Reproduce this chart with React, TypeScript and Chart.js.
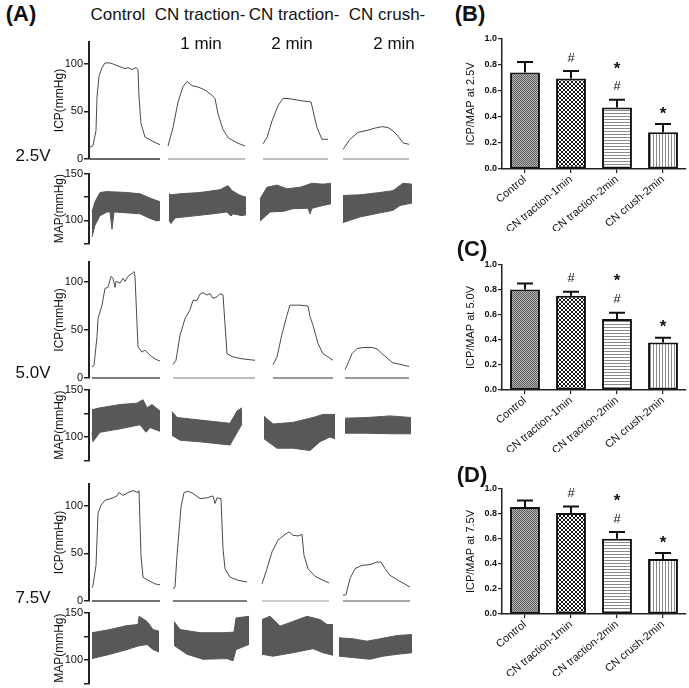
import React, { useEffect, useRef } from 'react';
import { Chart, registerables } from 'chart.js';

Chart.register(...registerables);

const FONT = '"Liberation Sans", Arial, Helvetica, sans-serif';
Chart.defaults.font.family = FONT;
Chart.defaults.color = '#111';

type Pt = [number, number];

// ---------- labels ----------
const groupHeads = ['Control', 'CN traction-', 'CN traction-', 'CN crush-'];
const groupSubs = ['', '1 min', '2 min', '2 min'];
const voltages = ['2.5V', '5.0V', '7.5V'];
const barGroups = ['Control', 'CN traction-1min', 'CN traction-2min', 'CN crush-2min'];
const icpTicks = [0, 50, 100];
const mapTicks = [75, 100, 125, 150];
const mapLabelled = [100, 150];
const ratioTicks = [0, 0.2, 0.4, 0.6, 0.8, 1.0];

// ---------- Panel A: ICP traces [time, mmHg] ----------
const icp25Control: Pt[] = [[1, 12.5], [4, 14], [7, 30], [8, 65], [10, 87], [13, 96], [16, 101], [21, 101], [26, 99], [31, 97], [36, 95], [39, 96], [43, 94], [47, 96], [49, 94], [50, 65], [52, 37], [56, 23], [63, 19], [71, 15]];
const icp25Trac1: Pt[] = [[79, 13.6], [84, 33], [89, 60], [94, 76], [98, 81.5], [101, 79], [103, 77], [108, 76], [113, 74], [118, 71], [123, 67], [126, 63.6], [129, 47.5], [134, 31], [139, 22.5], [148, 17], [156, 13.6]];
const icp25Trac2: Pt[] = [[174, 16], [178, 22.5], [183, 40], [189, 56], [194, 63.6], [199, 63.6], [208, 62], [216, 60.7], [222, 60], [224, 51], [228, 33], [233, 20.7], [239, 20.7]];
const icp25Crush: Pt[] = [[254, 10], [261, 20.7], [269, 28], [278, 30], [286, 32.5], [293, 34], [299, 33], [304, 29.6], [309, 24], [314, 17], [320, 15.4]];

const icp50Control: Pt[] = [[3, 11.5], [5, 13], [8, 43], [9, 62], [13, 76], [16, 93.5], [19, 94.5], [22, 106], [24, 104], [26, 94.5], [27, 100.7], [31, 99], [34, 104], [36, 100.7], [39, 106], [43, 109], [45, 111], [46, 106], [49, 32.5], [53, 27], [56, 29], [61, 23.7], [66, 20], [71, 17.5]];
const icp50Trac1: Pt[] = [[84, 14], [87, 18.5], [91, 44.6], [96, 62], [101, 71], [104, 81], [108, 81], [111, 87.5], [114, 89], [118, 86.5], [121, 88], [124, 83], [128, 84.7], [131, 88], [134, 86.5], [138, 25.4], [144, 22], [153, 20], [166, 18.5]];
const icp50Trac2: Pt[] = [[184, 14], [188, 22], [193, 46], [198, 65.5], [201, 76], [204, 76], [211, 76], [219, 75], [221, 64], [224, 55], [229, 36], [234, 25.4], [244, 18.5]];
const icp50Crush: Pt[] = [[256, 8.7], [258, 13], [263, 25.4], [268, 30.7], [274, 31.8], [283, 31.8], [288, 30.4], [293, 25.4], [299, 20], [304, 15.7], [311, 14.3], [320, 12]];

const icp75Control: Pt[] = [[3, 14], [4, 16.5], [7, 37.5], [9, 92], [12, 100.7], [16, 106], [23, 108], [28, 110.5], [30, 114], [34, 111], [39, 114], [44, 116], [49, 114], [50, 116], [52, 48], [54, 25], [59, 21.8], [66, 18], [71, 17]];
const icp75Trac1: Pt[] = [[84, 13], [86, 14.7], [88, 48], [92, 99], [95, 114], [99, 115.4], [104, 113], [111, 107.7], [118, 108.4], [124, 110.5], [126, 102.5], [128, 108.4], [132, 107.7], [134, 55], [136, 34], [141, 25], [149, 21.8], [158, 20]];
const icp75Trac2: Pt[] = [[173, 18], [178, 34], [183, 51.6], [189, 64], [196, 70], [200, 72.6], [204, 69], [209, 68.4], [213, 70], [215, 48], [219, 34], [226, 26], [234, 21.8], [240, 19]];
const icp75Crush: Pt[] = [[254, 6], [257, 6.7], [261, 23.5], [266, 34], [273, 37.5], [279, 38], [283, 39], [288, 41], [292, 41], [296, 34], [301, 27], [309, 21.8], [321, 14.7]];

// ---------- Panel A: MAP envelopes (upper / lower), [time, mmHg] ----------
const map25ControlHi: Pt[] = [[3, 109], [6, 120], [11, 130], [18, 131], [38, 130], [51, 128.6], [61, 124], [71, 120]];
const map25ControlLo: Pt[] = [[3, 82], [6, 94.6], [11, 105], [18, 109], [21, 109], [23, 90.4], [25, 109], [38, 108], [51, 107], [61, 102], [68, 99.3], [71, 100]];
const map25Trac1Hi: Pt[] = [[80, 128.6], [82, 127.5], [91, 128.6], [111, 130], [131, 133], [139, 137.5], [143, 132], [151, 127], [157, 125]];
const map25Trac1Lo: Pt[] = [[80, 100], [82, 96.4], [86, 102.5], [104, 104.6], [124, 107], [138, 109], [142, 104.6], [144, 107], [153, 105], [157, 106]];
const map25Trac2Hi: Pt[] = [[171, 123], [178, 135.7], [188, 138], [198, 134], [211, 135.7], [223, 140], [234, 139], [242, 140]];
const map25Trac2Lo: Pt[] = [[171, 99], [181, 109], [194, 109.6], [204, 112.5], [219, 113], [221, 107], [223, 113], [234, 116], [242, 117.8]];
const map25CrushHi: Pt[] = [[254, 126.8], [271, 127.5], [291, 130], [304, 132], [314, 140], [323, 139]];
const map25CrushLo: Pt[] = [[254, 97.5], [271, 103.6], [291, 108], [304, 110.7], [311, 116], [323, 118.6]];

const map50ControlHi: Pt[] = [[3, 129], [11, 131], [31, 134.5], [48, 136], [54, 139.7], [58, 131], [63, 134.5], [71, 127.6]];
const map50ControlLo: Pt[] = [[3, 105], [4, 95], [11, 105], [31, 108.6], [51, 113], [57, 105], [61, 110], [71, 106]];
const map50Trac1Hi: Pt[] = [[83, 127], [88, 120.7], [111, 118], [141, 114.5], [148, 127.6], [153, 131]];
const map50Trac1Lo: Pt[] = [[83, 101.7], [91, 96.5], [111, 94.8], [141, 91.4], [153, 113.8]];
const map50Trac2Hi: Pt[] = [[175, 122], [184, 113.8], [204, 115.5], [224, 120.7], [234, 124], [246, 124]];
const map50Trac2Lo: Pt[] = [[175, 98], [188, 88], [204, 88], [221, 85.5], [231, 95], [241, 100], [246, 98]];
const map50CrushHi: Pt[] = [[256, 120], [278, 120.7], [301, 122.4], [322, 120.7]];
const map50CrushLo: Pt[] = [[256, 104], [278, 104], [301, 103.4], [322, 103.4]];

const map75ControlHi: Pt[] = [[3, 129], [21, 132.4], [38, 136.6], [49, 137.7], [50, 146.5], [58, 141], [64, 132.4], [70, 130.6]];
const map75ControlLo: Pt[] = [[3, 101.4], [21, 106], [38, 111], [49, 114.8], [58, 116.5], [64, 111], [70, 108.5]];
const map75Trac1Hi: Pt[] = [[85, 141], [91, 132.4], [111, 129], [134, 129], [145, 129.6], [147, 144.7], [160, 146.5]];
const map75Trac1Lo: Pt[] = [[85, 115.5], [98, 106], [114, 100.7], [138, 101.4], [144, 99], [147, 111], [160, 116.5]];
const map75Trac2Hi: Pt[] = [[173, 143], [181, 146.5], [191, 136], [204, 141], [218, 146.5], [231, 143], [238, 137.7], [244, 137.7]];
const map75Trac2Lo: Pt[] = [[173, 106], [184, 104], [204, 107.7], [224, 112], [234, 107.7], [244, 105]];
const map75CrushHi: Pt[] = [[250, 123.6], [264, 122.5], [278, 120], [291, 122.5], [308, 126], [323, 127]];
const map75CrushLo: Pt[] = [[250, 104], [264, 102.5], [281, 100.7], [294, 104], [308, 106], [323, 107.7]];

// ---------- Panels B-D: ICP/MAP ratio (mean, SEM) ----------
const ratio25 = [0.743, 0.697, 0.473, 0.283];
const sem25 = [0.080, 0.056, 0.059, 0.064];
const ratio50 = [0.805, 0.755, 0.568, 0.381];
const sem50 = [0.048, 0.032, 0.051, 0.038];
const ratio75 = [0.856, 0.808, 0.603, 0.440];
const sem75 = [0.053, 0.053, 0.053, 0.048];
const sigMarks = [[], ['#'], ['#', '*'], ['*']];

// ---------- helpers ----------
const toXY = (pts: Pt[]) => pts.map(([x, y]) => ({ x, y }));

function ChartBox({ left, top, width, height, build }: any) {
  const ref = useRef<HTMLCanvasElement>(null);
  useEffect(() => {
    const chart = new Chart(ref.current as HTMLCanvasElement, build());
    return () => chart.destroy();
  }, []);
  return (
    <canvas ref={ref} width={width} height={height}
      style={{ position: 'absolute', left, top, width, height }} />
  );
}

const TRACE_LEFT_PAD = 48;
const TRACE_AXIS_W = 41;
const TRACE_W = 418;
const TRACE_XMAX = 325;

function icpConfig(traces: Pt[][], yMax: number, baseColors: string[]) {
  const datasets: any[] = [];
  traces.forEach((tr, i) => {
    datasets.push({
      data: [{ x: tr[0][0], y: 0 }, { x: tr[tr.length - 1][0], y: 0 }],
      borderColor: baseColors[i], borderWidth: 1.5, pointRadius: 0, clip: 4,
    });
    datasets.push({ data: toXY(tr), borderColor: '#4a4a4a', borderWidth: 1, pointRadius: 0, clip: 4 });
  });
  return {
    type: 'line',
    data: { datasets },
    options: {
      animation: false, responsive: false, devicePixelRatio: 1,
      layout: { padding: { left: TRACE_LEFT_PAD, right: 4, top: 10, bottom: 10 } },
      plugins: { legend: { display: false }, tooltip: { enabled: false } },
      scales: {
        x: { type: 'linear', min: 0, max: TRACE_XMAX, display: false },
        y: {
          min: 0, max: yMax,
          afterBuildTicks: (s: any) => { s.ticks = icpTicks.map((v) => ({ value: v })); },
          afterFit: (s: any) => { s.width = TRACE_AXIS_W; },
          ticks: { font: { size: 11 }, color: '#111', padding: 1 },
          grid: { drawOnChartArea: false, tickLength: 5, color: '#222', lineWidth: 1.5 },
          border: { color: '#222', width: 2 },
          title: { display: true, text: 'ICP(mmHg)', font: { size: 12 }, color: '#111', padding: { top: 4, bottom: 0 } },
        },
      },
    },
  };
}

function mapConfig(bands: [Pt[], Pt[]][]) {
  const datasets: any[] = [];
  bands.forEach(([hi, lo]) => {
    datasets.push({ data: toXY(hi), fill: '+1', backgroundColor: '#585858', borderColor: '#585858', borderWidth: 1, pointRadius: 0 });
    datasets.push({ data: toXY(lo), fill: false, borderColor: '#585858', borderWidth: 1, pointRadius: 0 });
  });
  return {
    type: 'line',
    data: { datasets },
    options: {
      animation: false, responsive: false, devicePixelRatio: 1,
      layout: { padding: { left: TRACE_LEFT_PAD, right: 4, top: 8, bottom: 6 } },
      plugins: { legend: { display: false }, tooltip: { enabled: false } },
      scales: {
        x: { type: 'linear', min: 0, max: TRACE_XMAX, display: false },
        y: {
          min: 75, max: 150,
          afterBuildTicks: (s: any) => { s.ticks = mapTicks.map((v) => ({ value: v })); },
          afterFit: (s: any) => { s.width = TRACE_AXIS_W; },
          ticks: { font: { size: 11 }, color: '#111', padding: 1, callback: (v: any) => (mapLabelled.includes(v) ? String(v) : '') },
          grid: { drawOnChartArea: false, tickLength: 5, color: '#222', lineWidth: 1.5 },
          border: { color: '#222', width: 2 },
          title: { display: true, text: 'MAP(mmHg)', font: { size: 12 }, color: '#111', padding: { top: 4, bottom: 0 } },
        },
      },
    },
  };
}

function makePattern(kind: string) {
  const c = document.createElement('canvas');
  const ctx = c.getContext('2d') as CanvasRenderingContext2D;
  if (kind === 'fine') {
    c.width = 2; c.height = 2;
    ctx.fillStyle = '#b4b4b4'; ctx.fillRect(0, 0, 2, 2);
    ctx.fillStyle = '#5e5e5e'; ctx.fillRect(0, 0, 1, 1); ctx.fillRect(1, 1, 1, 1);
  } else if (kind === 'check') {
    c.width = 4; c.height = 4;
    ctx.fillStyle = '#ffffff'; ctx.fillRect(0, 0, 4, 4);
    ctx.fillStyle = '#151515'; ctx.fillRect(0, 0, 2, 2); ctx.fillRect(2, 2, 2, 2);
  } else if (kind === 'hline') {
    c.width = 3; c.height = 3;
    ctx.fillStyle = '#ffffff'; ctx.fillRect(0, 0, 3, 3);
    ctx.fillStyle = '#8a8a8a'; ctx.fillRect(0, 0, 3, 1);
  } else {
    c.width = 3; c.height = 3;
    ctx.fillStyle = '#ffffff'; ctx.fillRect(0, 0, 3, 3);
    ctx.fillStyle = '#8a8a8a'; ctx.fillRect(0, 0, 1, 3);
  }
  return ctx.createPattern(c, 'repeat');
}

const BAR_X_AXIS_H = 62;

function barConfig(values: number[], sems: number[], title: string) {
  const patterns = ['fine', 'check', 'hline', 'vline'].map(makePattern);
  const errPlugin = {
    id: 'errMarks',
    afterDatasetsDraw(chart: any) {
      const ctx = chart.ctx;
      const y = chart.scales.y;
      const meta = chart.getDatasetMeta(0);
      ctx.save();
      ctx.strokeStyle = '#111';
      ctx.lineWidth = 2;
      ctx.fillStyle = '#111';
      ctx.textAlign = 'center';
      ctx.textBaseline = 'middle';
      meta.data.forEach((bar: any, i: number) => {
        const x = bar.x;
        const y0 = y.getPixelForValue(values[i]);
        const y1 = y.getPixelForValue(values[i] + sems[i]);
        ctx.beginPath();
        ctx.moveTo(x, y0); ctx.lineTo(x, y1);
        ctx.moveTo(x - 8, y1); ctx.lineTo(x + 8, y1);
        ctx.stroke();
        sigMarks[i].forEach((m, k) => {
          if (m === '*') {
            ctx.font = `bold 17px ${FONT}`;
            ctx.fillText(m, x, y1 - 10 - 21 * k);
          } else {
            ctx.font = `13px ${FONT}`;
            ctx.fillText(m, x, y1 - 13 - 21 * k);
          }
        });
      });
      ctx.restore();
    },
  };
  return {
    type: 'bar',
    data: {
      labels: barGroups,
      datasets: [{
        data: values, backgroundColor: patterns, borderColor: '#111', borderWidth: 2,
        borderSkipped: false, barPercentage: 0.65, categoryPercentage: 1,
      }],
    },
    plugins: [errPlugin],
    options: {
      animation: false, responsive: false, devicePixelRatio: 1,
      layout: { padding: { left: 5, right: 3, top: 10, bottom: 0 } },
      plugins: { legend: { display: false }, tooltip: { enabled: false } },
      scales: {
        x: {
          type: 'category', offset: true,
          afterFit: (s: any) => { s.height = BAR_X_AXIS_H; },
          ticks: { font: { size: 11 }, color: '#111', minRotation: 40, maxRotation: 40, autoSkip: false, padding: 0 },
          grid: { drawOnChartArea: false, offset: false, tickLength: 4, color: '#222', lineWidth: 1.2 },
          border: { color: '#222', width: 1.5 },
        },
        y: {
          min: 0, max: 1,
          afterBuildTicks: (s: any) => { s.ticks = ratioTicks.map((v) => ({ value: v })); },
          afterFit: (s: any) => { s.width = 42; },
          ticks: { font: { size: 9, weight: 'bold' }, color: '#111', padding: 1, callback: (v: any) => Number(v).toFixed(1) },
          grid: { drawOnChartArea: false, tickLength: 4, color: '#222', lineWidth: 1.2 },
          border: { color: '#222', width: 1.5 },
          title: { display: true, text: title, font: { size: 11 }, color: '#111', padding: { top: 4, bottom: 0 } },
        },
      },
    },
  };
}

function Label({ text, cx, cy, size, bold }: any) {
  return (
    <div style={{
      position: 'absolute', left: cx, top: cy, transform: 'translate(-50%, -50%)',
      fontSize: size, fontWeight: bold ? 'bold' : 'normal', lineHeight: 1, whiteSpace: 'nowrap',
      fontFamily: FONT, color: '#111',
    }}>{text}</div>
  );
}

const icpRows = [
  { top: 42, bottom: 159, max: 123, traces: [icp25Control, icp25Trac1, icp25Trac2, icp25Crush], base: ['#333', '#aaa', '#aaa', '#aaa'] },
  { top: 262, bottom: 378, max: 121, traces: [icp50Control, icp50Trac1, icp50Trac2, icp50Crush], base: ['#555', '#aaa', '#777', '#777'] },
  { top: 484, bottom: 601, max: 123, traces: [icp75Control, icp75Trac1, icp75Trac2, icp75Crush], base: ['#444', '#555', '#bbb', '#888'] },
];
const mapRows: { top: number; bottom: number; bands: [Pt[], Pt[]][] }[] = [
  { top: 174, bottom: 245, bands: [[map25ControlHi, map25ControlLo], [map25Trac1Hi, map25Trac1Lo], [map25Trac2Hi, map25Trac2Lo], [map25CrushHi, map25CrushLo]] },
  { top: 390, bottom: 462, bands: [[map50ControlHi, map50ControlLo], [map50Trac1Hi, map50Trac1Lo], [map50Trac2Hi, map50Trac2Lo], [map50CrushHi, map50CrushLo]] },
  { top: 613, bottom: 685, bands: [[map75ControlHi, map75ControlLo], [map75Trac1Hi, map75Trac1Lo], [map75Trac2Hi, map75Trac2Lo], [map75CrushHi, map75CrushLo]] },
];
const barPanels = [
  { top: 39, bottom: 169, values: ratio25, sems: sem25, title: 'ICP/MAP at 2.5V' },
  { top: 265, bottom: 390, values: ratio50, sems: sem50, title: 'ICP/MAP at 5.0V' },
  { top: 489, bottom: 614, values: ratio75, sems: sem75, title: 'ICP/MAP at 7.5V' },
];

const headX = [118, 200, 294, 387];
const subX = [201, 201, 292, 394];
const voltY = [155, 372, 597];
const panelLetters = [
  { t: '(A)', cx: 21, cy: 14 },
  { t: '(B)', cx: 470, cy: 14 },
  { t: '(C)', cx: 472, cy: 249 },
  { t: '(D)', cx: 472, cy: 475 },
];

export default function App() {
  return (
    <div style={{ position: 'absolute', left: 0, top: 0, width: 689, height: 688, background: '#fff', overflow: 'hidden' }}>
      {icpRows.map((r, i) => (
        <ChartBox key={'icp' + i} left={0} top={r.top - 10} width={TRACE_W} height={r.bottom - r.top + 20}
          build={() => icpConfig(r.traces, r.max, r.base)} />
      ))}
      {mapRows.map((r, i) => (
        <ChartBox key={'map' + i} left={0} top={r.top - 8} width={TRACE_W} height={r.bottom - r.top + 14}
          build={() => mapConfig(r.bands)} />
      ))}
      {barPanels.map((p, i) => (
        <ChartBox key={'bar' + i} left={455} top={p.top - 10} width={234} height={p.bottom - p.top + 10 + BAR_X_AXIS_H}
          build={() => barConfig(p.values, p.sems, p.title)} />
      ))}
      {groupHeads.map((t, i) => <Label key={'h' + i} text={t} cx={headX[i]} cy={14} size={17} />)}
      {groupSubs.map((t, i) => (t ? <Label key={'s' + i} text={t} cx={subX[i]} cy={43} size={17} /> : null))}
      {voltages.map((t, i) => <Label key={'v' + i} text={t} cx={33} cy={voltY[i]} size={17} />)}
      {panelLetters.map((p, i) => <Label key={'p' + i} text={p.t} cx={p.cx} cy={p.cy} size={22} bold />)}
    </div>
  );
}
